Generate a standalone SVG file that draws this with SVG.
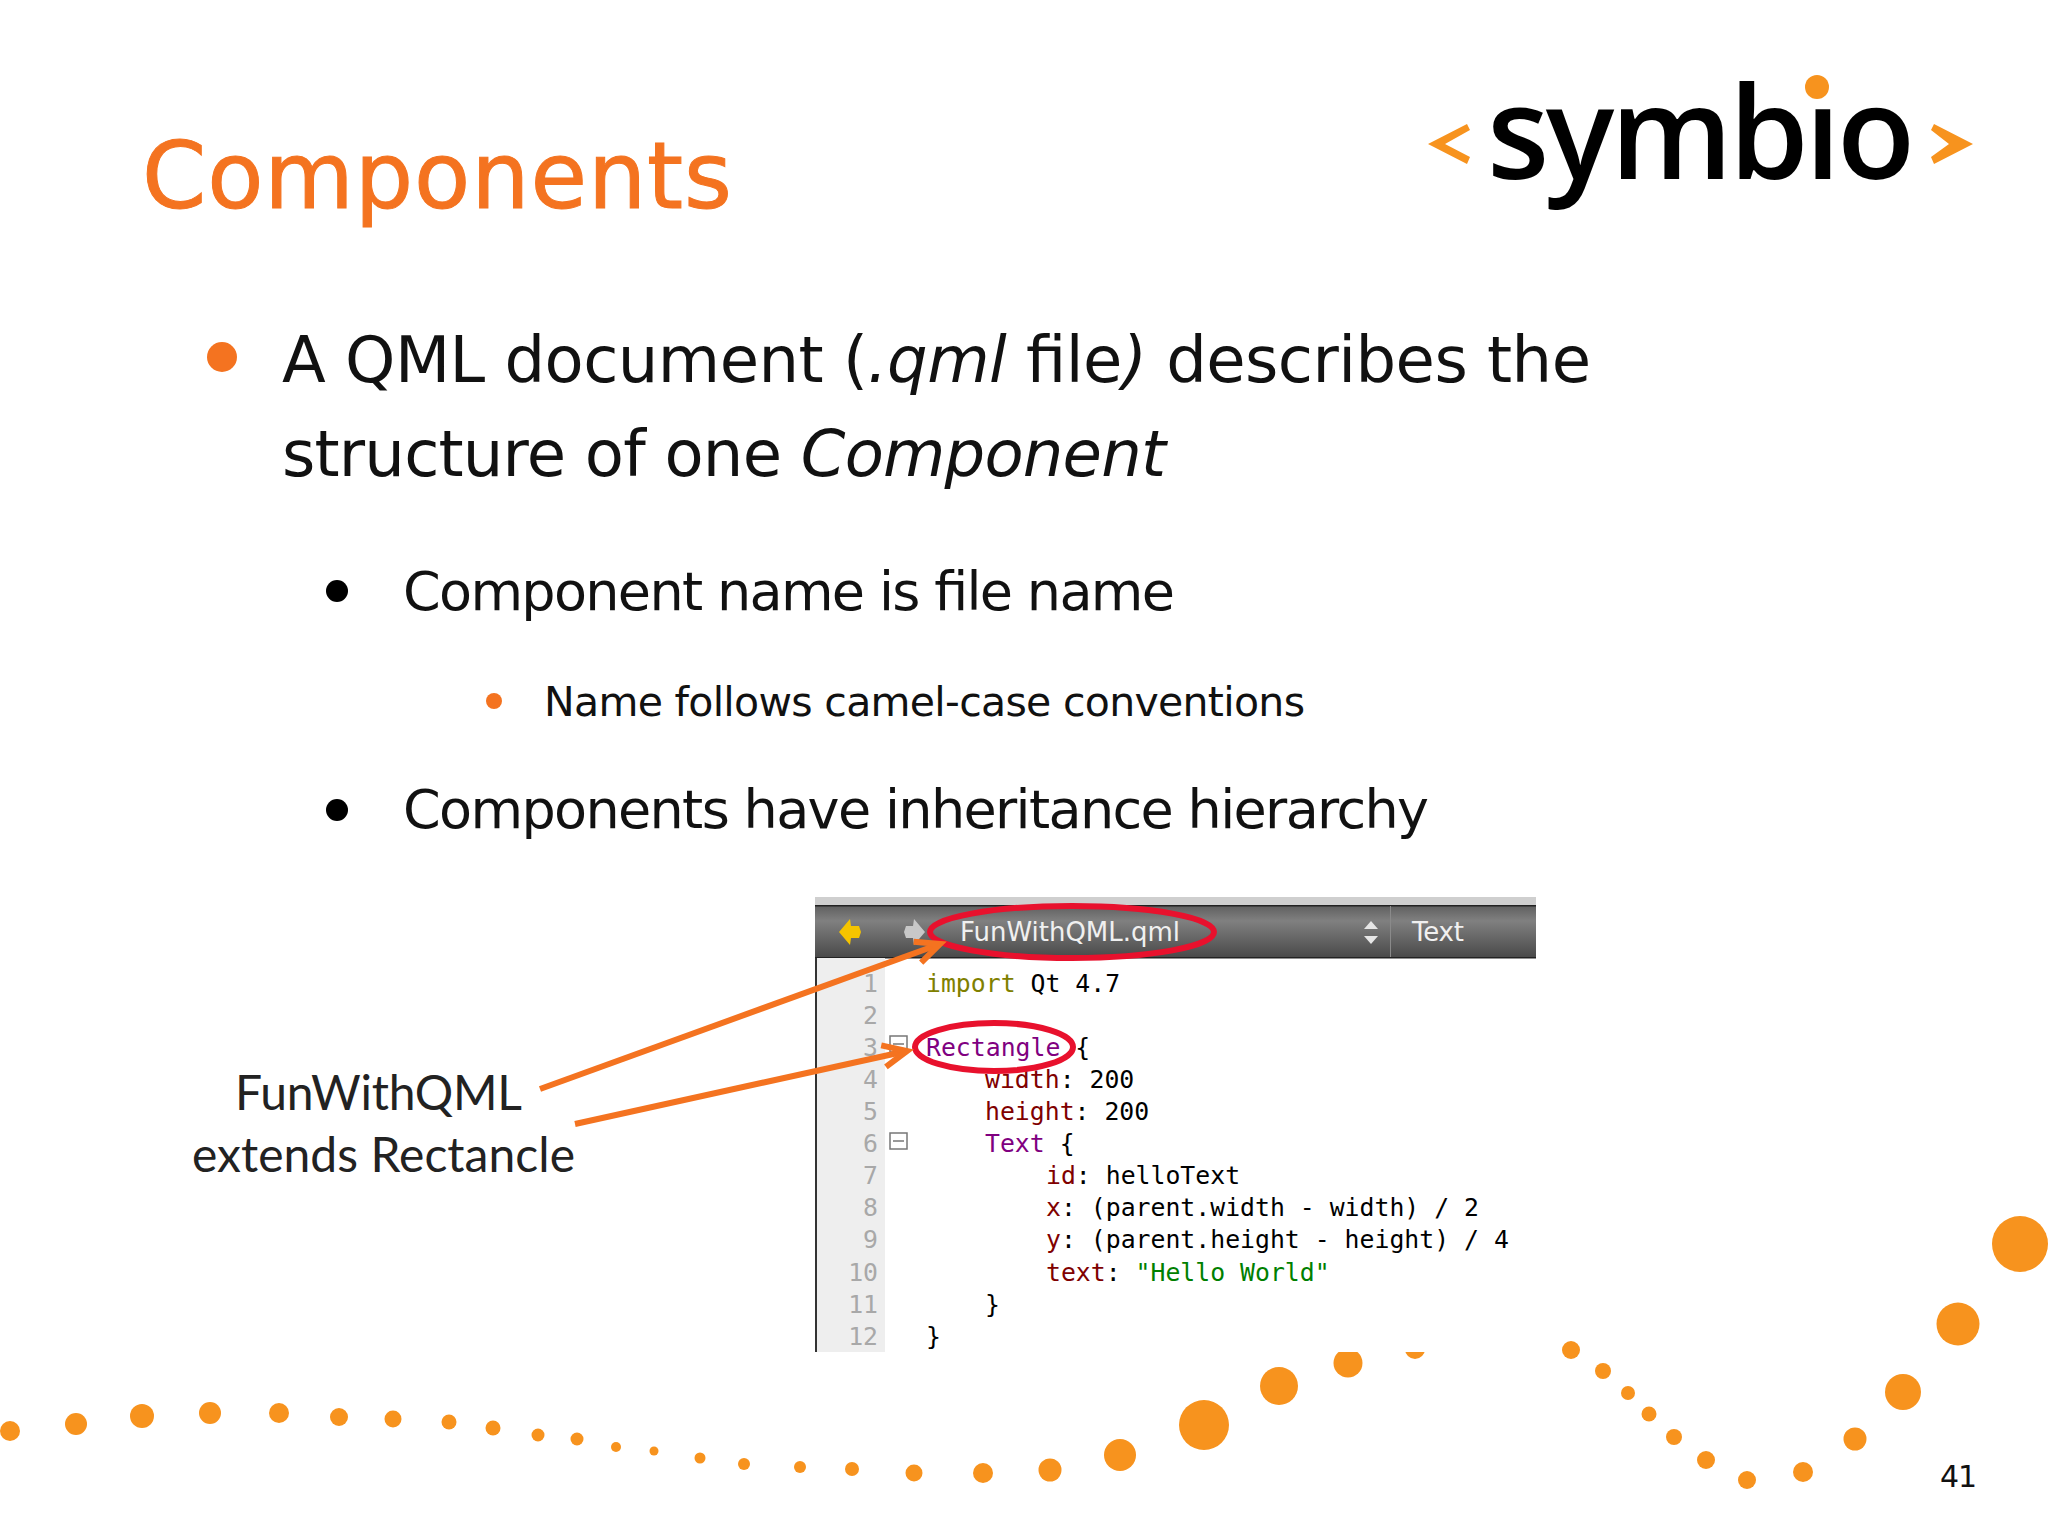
<svg xmlns="http://www.w3.org/2000/svg" width="2048" height="1536" viewBox="0 0 2048 1536">
<style>
.b{font-family:"DejaVu Sans",Verdana,sans-serif;fill:#111}
.m{font-family:"DejaVu Sans Mono",monospace;font-size:24.8px;fill:#000;white-space:pre}
.n{font-family:"DejaVu Sans Mono",monospace;font-size:24.8px;fill:#a8a8a8;text-anchor:end}
.l{font-family:"Lato","Open Sans",sans-serif;font-size:48px;fill:#222}
.t{font-family:"DejaVu Sans",sans-serif;font-size:26px;fill:#f0f0f0}
.dots circle{fill:#f7931e}
.o{fill:#f47320}
.kw{fill:#808000}.pu{fill:#800080}.re{fill:#800000}.gr{fill:#008000}
.ring{fill:none;stroke:#e8112d;stroke-width:6}
.arrow{fill:none;stroke:#f47320;stroke-width:6;marker-end:url(#head)}
.fold{fill:none;stroke:#777;stroke-width:1.5}
</style>
<defs>
<linearGradient id="bar" x1="0" y1="0" x2="0" y2="1">
<stop offset="0" stop-color="#5e5e5e"/><stop offset=".3" stop-color="#808080"/><stop offset="1" stop-color="#484848"/>
</linearGradient>
<marker id="head" markerUnits="userSpaceOnUse" markerWidth="40" markerHeight="40" refX="31" refY="20" orient="auto">
<path d="M7 9 L31 20 L7 31" fill="none" stroke="#f47320" stroke-width="6"/>
</marker>
</defs>
<rect width="2048" height="1536" fill="#fff"/>

<g id="title"><text x="142" y="208" font-family="DejaVu Sans,sans-serif" font-size="92" fill="#f47320" stroke="#f47320" stroke-width="1" textLength="590">Components</text></g>

<g id="logo">
<polygon fill="#f7931e" points="1428,144 1467,124 1470,130 1445,144 1470,157 1467,164"/>
<polygon fill="#f7931e" points="1931,130 1934,124 1973,144 1934,164 1931,157 1949,144"/>
<text x="1487" y="179" font-family="Open Sans,sans-serif" font-weight="600" font-size="128" fill="#000" textLength="428">symbio</text>
<rect x="1802" y="66" width="34" height="37" fill="#fff"/>
<circle cx="1817" cy="87" r="12" fill="#f7931e"/>
</g>

<g id="body">
<circle class="o" cx="222" cy="357" r="15"/>
<text class="b" x="282" y="382" font-size="64" textLength="1309">A QML document (<tspan font-style="italic">.qml</tspan> file<tspan font-style="italic">)</tspan> describes the</text>
<text class="b" x="282" y="476" font-size="64" textLength="884">structure of one <tspan font-style="italic">Component</tspan></text>
<circle cx="337" cy="591" r="11" fill="#000"/>
<text class="b" x="403" y="610" font-size="54" textLength="772">Component name is file name</text>
<circle class="o" cx="494" cy="701" r="8"/>
<text class="b" x="544" y="716" font-size="41" textLength="761">Name follows camel-case conventions</text>
<circle cx="337" cy="810" r="11" fill="#000"/>
<text class="b" x="403" y="828" font-size="54" textLength="1026">Components have inheritance hierarchy</text>
</g>

<g id="dots" class="dots">
<circle cx="10" cy="1431" r="10"/><circle cx="76" cy="1424" r="11"/><circle cx="142" cy="1416" r="12"/><circle cx="210" cy="1413" r="11"/><circle cx="279" cy="1413" r="10"/><circle cx="339" cy="1417" r="9"/><circle cx="393" cy="1419" r="8.5"/><circle cx="449" cy="1422" r="7.5"/><circle cx="493" cy="1428" r="7.5"/><circle cx="538" cy="1435" r="6.5"/><circle cx="577" cy="1439" r="6.5"/><circle cx="616" cy="1447" r="5"/><circle cx="654" cy="1451" r="4.5"/><circle cx="700" cy="1458" r="5.5"/><circle cx="744" cy="1464" r="6"/><circle cx="800" cy="1467" r="6"/><circle cx="852" cy="1469" r="7"/><circle cx="914" cy="1473" r="8.5"/><circle cx="983" cy="1473" r="10"/>
<circle cx="1050" cy="1470" r="11.5"/><circle cx="1120" cy="1455" r="16"/><circle cx="1204" cy="1425" r="25"/><circle cx="1279" cy="1386" r="19"/><circle cx="1348" cy="1363" r="14.5"/><circle cx="1415" cy="1349" r="10"/>
<circle cx="1571" cy="1350" r="9"/><circle cx="1603" cy="1371" r="8"/><circle cx="1628" cy="1393" r="7"/><circle cx="1649" cy="1414" r="7.5"/><circle cx="1674" cy="1437" r="8"/><circle cx="1706" cy="1460" r="9"/><circle cx="1747" cy="1480" r="9"/><circle cx="1803" cy="1472" r="10"/><circle cx="1855" cy="1439" r="11.5"/><circle cx="1903" cy="1392" r="18"/><circle cx="1958" cy="1324" r="21.5"/><circle cx="2020" cy="1244" r="28"/>
</g>

<g id="editor">
<rect x="815" y="897" width="721" height="455" fill="#fff"/>
<rect x="815" y="897" width="721" height="8" fill="#cfcfcf"/>
<rect x="815" y="905" width="721" height="53" fill="url(#bar)"/>
<rect x="815" y="905" width="721" height="1.5" fill="#222"/>
<rect x="815" y="957" width="721" height="1.5" fill="#222"/>
<rect x="817" y="958" width="68" height="394" fill="#eeeeee"/>
<rect x="815" y="958" width="2" height="394" fill="#333"/>
<polygon fill="#f5c400" points="839,932 850,919 851,926 859,926 861,932 859,938 851,938 850,945"/>
<polygon fill="#c8c8c8" points="925,932 914,919 913,926 906,926 904,932 906,938 913,938 914,945"/>
<polygon fill="#e6e6e6" points="1371,921 1378,929 1364,929"/>
<polygon fill="#e6e6e6" points="1371,944 1378,936 1364,936"/>
<rect x="1390" y="906" width="1" height="51" fill="#8a8a8a"/>
<text class="t" x="960" y="941" textLength="220">FunWithQML.qml</text>
<text class="t" x="1412" y="941" textLength="52">Text</text>

<text class="n" x="878" y="992">1</text><text class="n" x="878" y="1024">2</text><text class="n" x="878" y="1056">3</text><text class="n" x="878" y="1088">4</text><text class="n" x="878" y="1120">5</text><text class="n" x="878" y="1152">6</text><text class="n" x="878" y="1184">7</text><text class="n" x="878" y="1216">8</text><text class="n" x="878" y="1248">9</text><text class="n" x="878" y="1281">10</text><text class="n" x="878" y="1313">11</text><text class="n" x="878" y="1345">12</text>

<rect class="fold" x="890" y="1036" width="17" height="16"/><path class="fold" d="M893 1044h11"/>
<rect class="fold" x="890" y="1133" width="17" height="16"/><path class="fold" d="M893 1141h11"/>

<text class="m" x="926" y="992"><tspan class="kw">import</tspan> Qt 4.7</text>
<text class="m" x="926" y="1056"><tspan class="pu">Rectangle</tspan> {</text>
<text class="m" x="985" y="1088"><tspan class="re">width</tspan>: 200</text>
<text class="m" x="985" y="1120"><tspan class="re">height</tspan>: 200</text>
<text class="m" x="985" y="1152"><tspan class="pu">Text</tspan> {</text>
<text class="m" x="1046" y="1184"><tspan class="re">id</tspan>: helloText</text>
<text class="m" x="1046" y="1216"><tspan class="re">x</tspan>: (parent.width - width) / 2</text>
<text class="m" x="1046" y="1248"><tspan class="re">y</tspan>: (parent.height - height) / 4</text>
<text class="m" x="1046" y="1281"><tspan class="re">text</tspan>: <tspan class="gr">"Hello World"</tspan></text>
<text class="m" x="985" y="1313">}</text>
<text class="m" x="926" y="1345">}</text>

<ellipse class="ring" cx="1072" cy="932" rx="142" ry="26"/>
<ellipse class="ring" cx="994" cy="1047" rx="79" ry="24"/>
</g>

<g id="label">
<text class="l" x="235" y="1110" textLength="287">FunWithQML</text>
<text class="l" x="192" y="1172" textLength="383">extends Rectancle</text>
</g>

<g id="connectors">
<path class="arrow" d="M540 1089 L940 944"/>
<path class="arrow" d="M575 1124 L907 1051"/>
</g>

<g id="page"><text x="1940" y="1487" font-family="DejaVu Sans,sans-serif" font-size="30" fill="#111" textLength="37">41</text></g>
</svg>
